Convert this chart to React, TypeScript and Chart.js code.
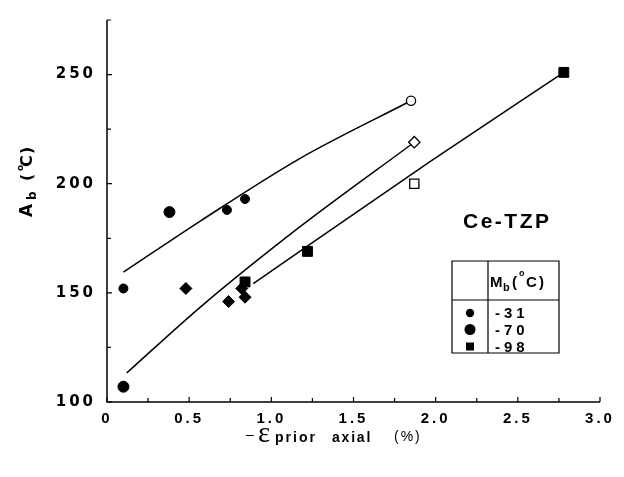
import { useEffect, useRef } from 'react';
import { Chart, registerables } from 'chart.js';

Chart.register(...registerables);

// ---- data ----
const strainSmallCircle = [0.10, 0.73, 0.84];
const abSmallCircle = [152, 188, 193];
const strainLargeCircle = [0.10, 0.38];
const abLargeCircle = [107, 187];
const strainDiamond = [0.48, 0.74, 0.84, 0.82];
const abDiamond = [152, 146, 148, 152];
const strainSquare = [0.84, 1.22, 2.78];
const abSquare = [155, 169, 251];
const strainOpenCircle = [1.85];
const abOpenCircle = [238];
const strainOpenDiamond = [1.87];
const abOpenDiamond = [219];
const strainOpenSquare = [1.87];
const abOpenSquare = [200];

const fit1Strain = [0.10, 0.57, 1.17, 1.85];
const fit1Ab = [159.5, 183, 211.4, 238];
const fit2Strain = [0.12, 0.57, 1.175, 1.87];
const fit2Ab = [113.3, 143.6, 180.3, 219];
const fit3Strain = [0.89, 1.97, 2.78];
const fit3Ab = [154.2, 210.3, 251];

const xTickLabels = ['0', '0.5', '1.0', '1.5', '2.0', '2.5', '3.0'];
const yTickLabels = ['100', '150', '200', '250'];
const legendValues = ['-31', '-70', '-98'];
const materialLabel = 'Ce-TZP';

const SANS = "'Liberation Sans', Arial, Helvetica, sans-serif";
const DEJAVU = "'DejaVu Sans', 'Liberation Sans', sans-serif";
const SERIF = "'Liberation Serif', 'DejaVu Serif', serif";

const pts = (xs: number[], ys: number[]) => xs.map((x, i) => ({ x, y: ys[i] }));

function markerSet(label: string, xs: number[], ys: number[], style: string, radius: number, filled: boolean) {
  return {
    label,
    data: pts(xs, ys),
    showLine: false,
    pointStyle: style,
    pointRadius: radius,
    pointBackgroundColor: filled ? '#000' : '#fff',
    pointBorderColor: '#000',
    pointBorderWidth: filled ? 1 : 1.3,
    order: 0,
  };
}

function fitSet(label: string, xs: number[], ys: number[]) {
  return {
    label,
    data: pts(xs, ys),
    showLine: true,
    borderColor: '#000',
    borderWidth: 1.5,
    pointRadius: 0,
    tension: 0.4,
    cubicInterpolationMode: 'monotone',
    fill: false,
    order: 1,
  };
}

function drawText(ctx: CanvasRenderingContext2D, s: string, x: number, y: number, font: string, spacing = 0, align: CanvasTextAlign = 'left') {
  ctx.font = font;
  (ctx as any).letterSpacing = spacing + 'px';
  ctx.textAlign = align;
  ctx.textBaseline = 'alphabetic';
  ctx.fillStyle = '#000';
  ctx.fillText(s, x, y);
  return ctx.measureText(s).width;
}

const decorPlugin = {
  id: 'decor',
  beforeDraw(chart: any) {
    (chart.ctx as any).letterSpacing = '3px';
  },
  afterDraw(chart: any) {
    const ctx: CanvasRenderingContext2D = chart.ctx;
    const { left, right, top, bottom } = chart.chartArea;
    const xs = chart.scales.x;
    const ys = chart.scales.y;
    ctx.save();
    (ctx as any).letterSpacing = '0px';
    ctx.strokeStyle = '#000';
    ctx.lineWidth = 1.5;
    ctx.beginPath();
    ctx.moveTo(left, top);
    ctx.lineTo(left, bottom);
    ctx.lineTo(right, bottom);
    ctx.stroke();
    ctx.lineWidth = 1.2;
    ctx.beginPath();
    ys.ticks.forEach((t: any, i: number) => {
      const py = ys.getPixelForValue(t.value);
      const len = i % 2 === 0 ? 5 : 4;
      ctx.moveTo(left, py);
      ctx.lineTo(left + len, py);
    });
    xs.ticks.forEach((t: any, i: number) => {
      const px = xs.getPixelForValue(t.value);
      const len = i % 2 === 0 ? 5 : 4;
      ctx.moveTo(px, bottom);
      ctx.lineTo(px, bottom - len);
    });
    ctx.stroke();

    // y title: A_b (°C), rotated
    ctx.save();
    ctx.translate(32, 217);
    ctx.rotate(-Math.PI / 2);
    drawText(ctx, 'A', 0, 0, `bold 17px ${DEJAVU}`);
    drawText(ctx, 'b', 17, 4, `bold 12px ${DEJAVU}`);
    drawText(ctx, '(', 36, 0, `bold 16px ${DEJAVU}`);
    drawText(ctx, 'o', 46, -9, `bold 9px ${DEJAVU}`);
    drawText(ctx, 'C', 50, 0, `bold 16px ${DEJAVU}`);
    drawText(ctx, ')', 63, 0, `bold 16px ${DEJAVU}`);
    ctx.restore();

    // x title: − ε prior axial (%)
    drawText(ctx, '\u2013', 246, 439, `14px ${SANS}`);
    drawText(ctx, '\u03b5', 258, 442, `29px ${SERIF}`);
    drawText(ctx, 'prior', 275, 442, `bold 14px ${SANS}`, 2);
    drawText(ctx, 'axial', 332, 442, `bold 14px ${SANS}`, 1.8);
    drawText(ctx, '(%)', 394, 441, `14px ${SANS}`, 2);

    // material label
    drawText(ctx, materialLabel, 463, 228, `bold 21px ${SANS}`, 2.5);

    // legend table
    const L = 452, R = 559, T = 261, B = 353, D = 488, H = 300;
    ctx.lineWidth = 1.2;
    ctx.strokeStyle = '#000';
    ctx.beginPath();
    ctx.rect(L, T, R - L, B - T);
    ctx.moveTo(D, T);
    ctx.lineTo(D, B);
    ctx.moveTo(L, H);
    ctx.lineTo(R, H);
    ctx.stroke();
    drawText(ctx, 'M', 490, 287, `bold 15px ${SANS}`);
    drawText(ctx, 'b', 503, 291, `bold 11px ${SANS}`);
    drawText(ctx, '(', 512, 287, `bold 15px ${SANS}`);
    drawText(ctx, 'o', 519, 276, `bold 9px ${SANS}`);
    drawText(ctx, 'C', 526, 287, `bold 15px ${SANS}`);
    drawText(ctx, ')', 539, 287, `bold 15px ${SANS}`);
    const rowY = [313, 329.5, 346.5];
    legendValues.forEach((v, i) => {
      drawText(ctx, v, 495, rowY[i] + 5, `bold 15px ${SANS}`, 4);
    });
    ctx.fillStyle = '#000';
    ctx.beginPath();
    ctx.arc(470, rowY[0], 4.2, 0, Math.PI * 2);
    ctx.fill();
    ctx.beginPath();
    ctx.arc(470, rowY[1], 5.5, 0, Math.PI * 2);
    ctx.fill();
    ctx.fillRect(466, rowY[2] - 4, 8, 8);
    ctx.restore();
  },
};

export default function App() {
  const ref = useRef<HTMLCanvasElement | null>(null);
  useEffect(() => {
    if (!ref.current) return;
    const chart = new Chart(ref.current, {
      type: 'scatter',
      data: {
        datasets: [
          markerSet('Mb -31', strainSmallCircle, abSmallCircle, 'circle', 4.5, true),
          markerSet('Mb -70', strainLargeCircle, abLargeCircle, 'circle', 5.5, true),
          markerSet('diamond', strainDiamond, abDiamond, 'rectRot', 6, true),
          markerSet('Mb -98', strainSquare, abSquare, 'rect', 7, true),
          markerSet('open circle', strainOpenCircle, abOpenCircle, 'circle', 4.6, false),
          markerSet('open diamond', strainOpenDiamond, abOpenDiamond, 'rectRot', 5.7, false),
          markerSet('open square', strainOpenSquare, abOpenSquare, 'rect', 6.5, false),
          fitSet('fit 1', fit1Strain, fit1Ab),
          fitSet('fit 2', fit2Strain, fit2Ab),
          fitSet('fit 3', fit3Strain, fit3Ab),
        ] as any,
      },
      options: {
        responsive: false,
        animation: false,
        devicePixelRatio: 1,
        layout: { padding: { top: 16, right: 24, left: 0, bottom: 0 } },
        plugins: { legend: { display: false }, tooltip: { enabled: false } },
        scales: {
          x: {
            type: 'linear',
            min: 0,
            max: 3,
            afterFit: (s: any) => { s.height = 75; },
            grid: { display: false, drawTicks: false },
            border: { display: false },
            ticks: {
              stepSize: 0.25,
              autoSkip: false,
              maxRotation: 0,
              padding: 8,
              color: '#000',
              font: { family: SANS, size: 15, weight: 'bold' },
              callback: (_v: any, i: number) => (i % 2 === 0 ? xTickLabels[i / 2] ?? '' : ''),
            },
          },
          y: {
            type: 'linear',
            min: 100,
            max: 275,
            afterFit: (s: any) => { s.width = 107; },
            grid: { display: false, drawTicks: false },
            border: { display: false },
            ticks: {
              stepSize: 25,
              autoSkip: false,
              includeBounds: false,
              padding: 11,
              color: '#000',
              font: { family: DEJAVU, size: 15, weight: 'bold' },
              callback: (_v: any, i: number) => (i % 2 === 0 ? yTickLabels[i / 2] ?? '' : ''),
            },
          },
        },
      } as any,
      plugins: [decorPlugin],
    });
    return () => chart.destroy();
  }, []);
  return (
    <div style={{ position: 'absolute', left: 0, top: 0, width: 624, height: 477, background: '#fff' }}>
      <canvas ref={ref} width={624} height={477} style={{ display: 'block' }} />
    </div>
  );
}
